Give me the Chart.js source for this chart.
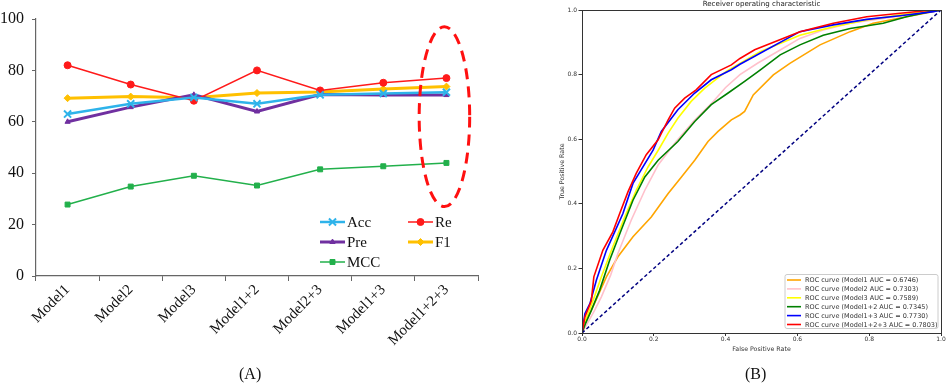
<!DOCTYPE html>
<html><head><meta charset="utf-8">
<script src="https://cdn.jsdelivr.net/npm/chart.js@4.4.0/dist/chart.umd.min.js"></script>
<style>
html,body{margin:0;padding:0;background:#fff;width:948px;height:384px;overflow:hidden;}
#a{position:absolute;left:0;top:0;width:490px;height:384px;}
#b{position:absolute;left:540px;top:0;width:408px;height:384px;}
.cap{position:absolute;top:365px;font:16px "Liberation Serif",serif;color:#111;line-height:18px;}
</style></head><body>
<div id="a"><canvas id="ca"></canvas></div>
<div id="b"><canvas id="cb"></canvas></div>
<div class="cap" style="left:239px">(A)</div>
<div class="cap" style="left:745px">(B)</div>
<script>
// ---------- Panel A data ----------
const categories = ['Model1','Model2','Model3','Model1+2','Model2+3','Model1+3','Model1+2+3'];
const acc = [63, 67, 69.5, 67, 70.5, 71, 71.5];
const re  = [82, 74.5, 68.2, 80, 72.2, 75.2, 77];
const pre = [60, 65.7, 70.5, 64, 70.6, 70.4, 70.4];
const f1  = [69.2, 69.8, 69.4, 71.2, 71.6, 72.8, 73.7];
const mcc = [27.8, 34.8, 39, 35.2, 41.5, 42.7, 44];
const yTicksA = [0, 20, 40, 60, 80, 100];
const highlightIndex = 6;          // category circled by the dashed ellipse
const highlightRange = [27, 97];   // value span covered by the ellipse

// ---------- Panel B data (fpr, tpr) ----------
const rocModel1 = [[0,0],[0.012,0.04],[0.026,0.07],[0.068,0.174],[0.10,0.236],[0.142,0.298],[0.193,0.359],[0.24,0.432],[0.277,0.483],[0.314,0.535],[0.351,0.593],[0.379,0.624],[0.416,0.66],[0.44,0.675],[0.453,0.686],[0.477,0.737],[0.533,0.799],[0.579,0.835],[0.663,0.892],[0.747,0.933],[0.811,0.959],[0.904,0.979],[0.97,0.993],[1,1]];
const rocModel2 = [[0,0],[0.015,0.03],[0.035,0.07],[0.054,0.112],[0.08,0.18],[0.10,0.246],[0.137,0.349],[0.175,0.442],[0.212,0.52],[0.26,0.59],[0.31,0.655],[0.36,0.71],[0.40,0.76],[0.44,0.80],[0.49,0.836],[0.552,0.876],[0.607,0.912],[0.672,0.938],[0.747,0.959],[0.839,0.974],[0.932,0.99],[1,1]];
const rocModel3 = [[0,0],[0.01,0.04],[0.031,0.101],[0.054,0.174],[0.082,0.256],[0.119,0.359],[0.151,0.442],[0.184,0.514],[0.214,0.569],[0.24,0.619],[0.267,0.665],[0.304,0.717],[0.342,0.758],[0.403,0.811],[0.496,0.871],[0.607,0.922],[0.70,0.948],[0.793,0.969],[0.886,0.985],[1,1]];
const rocModel12 = [[0,0],[0.01,0.03],[0.026,0.07],[0.049,0.132],[0.077,0.225],[0.109,0.318],[0.142,0.411],[0.175,0.483],[0.212,0.535],[0.267,0.593],[0.314,0.655],[0.36,0.707],[0.407,0.743],[0.453,0.779],[0.496,0.814],[0.552,0.861],[0.607,0.892],[0.672,0.922],[0.747,0.943],[0.839,0.959],[0.904,0.979],[0.969,0.995],[1,1]];
const rocModel13 = [[0,0],[0.008,0.06],[0.022,0.091],[0.04,0.163],[0.068,0.256],[0.114,0.37],[0.142,0.463],[0.198,0.566],[0.221,0.624],[0.249,0.665],[0.267,0.691],[0.314,0.743],[0.36,0.784],[0.416,0.815],[0.44,0.832],[0.481,0.857],[0.496,0.866],[0.607,0.933],[0.70,0.954],[0.793,0.971],[0.886,0.982],[0.979,0.995],[1,1]];
const rocModel123 = [[0,0],[0.008,0.05],[0.026,0.10],[0.033,0.174],[0.058,0.256],[0.086,0.313],[0.105,0.37],[0.128,0.437],[0.151,0.494],[0.179,0.552],[0.212,0.598],[0.24,0.66],[0.258,0.696],[0.286,0.727],[0.318,0.753],[0.36,0.80],[0.416,0.83],[0.44,0.85],[0.481,0.877],[0.607,0.933],[0.70,0.959],[0.793,0.979],[0.886,0.99],[0.979,1],[1,1]];
const rocLabels = ['ROC curve (Model1 AUC = 0.6746)','ROC curve (Model2 AUC = 0.7303)','ROC curve (Model3 AUC = 0.7589)','ROC curve (Model1+2 AUC = 0.7345)','ROC curve (Model1+3 AUC = 0.7730)','ROC curve (Model1+2+3 AUC = 0.7803)'];
const chanceLine = [[0,0],[1,1]];
const rocTicks = [0, 0.2, 0.4, 0.6, 0.8, 1.0];
const rocTitle = 'Receiver operating characteristic';

// ---------- Styles ----------
const SERIF = '"Liberation Serif", "Times New Roman", serif';
const SANS = '"DejaVu Sans", sans-serif';
const stylesA = [
  {label:'Acc', data:acc, color:'#2EB3EA', width:2.5, point:'crossRot', r:5, pbw:2},
  {label:'Re',  data:re,  color:'#FF1A1A', width:1.5, point:'circle', r:3.5, pbw:1},
  {label:'Pre', data:pre, color:'#7030A0', width:3,   point:'triangle', r:3, pbw:1},
  {label:'F1',  data:f1,  color:'#FFC000', width:3,   point:'rectRot', r:3.5, pbw:1},
  {label:'MCC', data:mcc, color:'#22B04B', width:1.5, point:'rect', r:3.5, pbw:1}
];
const legendA = {cols:[320, 408], rows:[222, 242, 262], sample:25};
const rocColors = ['#FFA500','#FFC0CB','#FFFF00','#008000','#0000FF','#FF0000'];

function marker(ctx, style, r, x, y, color, bw){
  ctx.save();
  ctx.strokeStyle = color; ctx.fillStyle = color; ctx.lineWidth = bw;
  if (Chart.helpers && Chart.helpers.drawPoint) {
    Chart.helpers.drawPoint(ctx, {pointStyle:style, radius:r, rotation:0, borderWidth:bw}, x, y);
  } else {
    ctx.beginPath(); ctx.arc(x,y,r,0,Math.PI*2); ctx.fill();
  }
  ctx.restore();
}

const panelAPlugin = {
  id:'panelA',
  afterDraw(chart){
    const ctx = chart.ctx;
    const xs = chart.scales.x, ys = chart.scales.y;
    const cx = xs.getPixelForValue(highlightIndex);
    const yTop = ys.getPixelForValue(highlightRange[1]);
    const yBot = ys.getPixelForValue(highlightRange[0]);
    const step = xs.getPixelForValue(1) - xs.getPixelForValue(0);
    ctx.save();
    ctx.beginPath();
    ctx.ellipse(cx - 2, (yTop + yBot)/2, step*0.4, (yBot - yTop)/2, 0, 0, Math.PI*2);
    ctx.setLineDash([11,7]);
    ctx.lineWidth = 3;
    ctx.strokeStyle = '#FF1010';
    ctx.stroke();
    ctx.restore();
    ctx.save();
    ctx.font = '15px ' + SERIF;
    ctx.textBaseline = 'middle';
    stylesA.forEach((s, i) => {
      const x = legendA.cols[i % 2], y = legendA.rows[Math.floor(i/2)];
      ctx.strokeStyle = s.color; ctx.lineWidth = s.width; ctx.setLineDash([]);
      ctx.beginPath(); ctx.moveTo(x, y); ctx.lineTo(x + legendA.sample, y); ctx.stroke();
      marker(ctx, s.point, s.r, x + legendA.sample/2, y, s.color, s.pbw);
      ctx.fillStyle = '#111';
      ctx.fillText(s.label, x + legendA.sample + 2, y + 1);
    });
    ctx.restore();
  }
};

new Chart(document.getElementById('ca'), {
  type:'line',
  data:{
    labels: categories,
    datasets: stylesA.map(s => ({
      label:s.label, data:s.data, borderColor:s.color, backgroundColor:s.color,
      borderWidth:s.width, pointStyle:s.point, pointRadius:s.r, pointBorderWidth:s.pbw,
      pointBorderColor:s.color, pointBackgroundColor:s.color, tension:0, fill:false
    }))
  },
  options:{
    animation:false, responsive:true, maintainAspectRatio:false,
    layout:{padding:{top:19, right:12, left:0, bottom:0}},
    plugins:{legend:{display:false}, tooltip:{enabled:false}},
    scales:{
      x:{
        offset:true,
        grid:{offset:true, drawOnChartArea:false, drawTicks:true, tickLength:5, color:'#666'},
        border:{color:'#666', width:1.2},
        ticks:{minRotation:45, maxRotation:45, autoSkip:false, padding:0, color:'#111', font:{family:SERIF, size:15}},
        afterFit(s){ s.height = 108; }
      },
      y:{
        min:0, max:100,
        afterBuildTicks(s){ s.ticks = yTicksA.map(v => ({value:v})); },
        grid:{drawOnChartArea:false, drawTicks:true, tickLength:4, color:'#666'},
        border:{color:'#666', width:1.2},
        ticks:{padding:8, color:'#111', font:{family:SERIF, size:16}},
        afterFit(s){ s.width = 36; }
      }
    }
  },
  plugins:[panelAPlugin]
});

// ---------- Panel B ----------
const rocSets = [rocModel1, rocModel2, rocModel3, rocModel12, rocModel13, rocModel123];
const panelBPlugin = {
  id:'panelB',
  afterDraw(chart){
    const ctx = chart.ctx, a = chart.chartArea;
    ctx.save();
    ctx.strokeStyle = '#333'; ctx.lineWidth = 1;
    ctx.strokeRect(Math.round(a.left)+0.5, Math.round(a.top)+0.5, Math.round(a.right - a.left), Math.round(a.bottom - a.top));
    // title centred over the plot area
    ctx.fillStyle = '#222';
    ctx.font = '7.1px ' + SANS;
    ctx.textAlign = 'center'; ctx.textBaseline = 'middle';
    ctx.fillText(rocTitle, (a.left + a.right)/2, a.top - 5.5);
    // legend box
    const w = 153, h = 54;
    const bx = a.right - 3 - w, by = a.bottom - 4.5 - h;
    ctx.fillStyle = 'rgba(255,255,255,0.85)';
    ctx.strokeStyle = '#cccccc';
    ctx.beginPath();
    if (ctx.roundRect) ctx.roundRect(bx, by, w, h, 2); else ctx.rect(bx, by, w, h);
    ctx.fill(); ctx.stroke();
    ctx.font = '6.5px ' + SANS;
    ctx.textAlign = 'left';
    rocLabels.forEach((lab, i) => {
      const y = by + 5.5 + i*8.9;
      ctx.strokeStyle = rocColors[i]; ctx.lineWidth = 1.6;
      ctx.beginPath(); ctx.moveTo(bx + 2, y); ctx.lineTo(bx + 16, y); ctx.stroke();
      ctx.fillStyle = '#333';
      ctx.fillText(lab, bx + 20, y + 0.5);
    });
    ctx.restore();
  }
};

const rocDatasets = rocSets.map((pts, i) => ({
  label: rocLabels[i],
  data: pts.map(p => ({x:p[0], y:p[1]})),
  borderColor: rocColors[i], backgroundColor: rocColors[i],
  borderWidth:1.6, pointRadius:0, showLine:true, tension:0, order: 6 - i
}));
rocDatasets.push({
  label:'chance', data: chanceLine.map(p => ({x:p[0], y:p[1]})),
  borderColor:'#000080', borderWidth:1.5, borderDash:[3.5,2.5], pointRadius:0, showLine:true, order:0
});

const tickCfg = {
  color:'#333', font:{family:SANS, size:6}, callback: v => Number(v).toFixed(1)
};
new Chart(document.getElementById('cb'), {
  type:'scatter',
  data:{datasets: rocDatasets},
  options:{
    animation:false, responsive:true, maintainAspectRatio:false,
    layout:{padding:{top:10, right:7, bottom:31, left:0}},
    plugins:{legend:{display:false}, tooltip:{enabled:false}},
    scales:{
      x:{
        type:'linear', min:0, max:1,
        afterBuildTicks(s){ s.ticks = rocTicks.map(v => ({value:v})); },
        grid:{drawOnChartArea:false, drawTicks:true, tickLength:3, color:'#333'},
        border:{color:'#333'},
        ticks:Object.assign({padding:0}, tickCfg),
        title:{display:true, text:'False Positive Rate', color:'#333', font:{family:SANS, size:6.3}, padding:{top:0, bottom:0}},
        afterFit(s){ s.height = 20; }
      },
      y:{
        type:'linear', min:0, max:1,
        afterBuildTicks(s){ s.ticks = rocTicks.map(v => ({value:v})); },
        grid:{drawOnChartArea:false, drawTicks:true, tickLength:3.5, color:'#333'},
        border:{color:'#333'},
        ticks:Object.assign({padding:1.5}, tickCfg),
        title:{display:true, text:'True Positive Rate', color:'#333', font:{family:SANS, size:6.3}, padding:{top:18.5, bottom:0}},
        afterFit(s){ s.width = 42; }
      }
    }
  },
  plugins:[panelBPlugin]
});
</script>
</body></html>
